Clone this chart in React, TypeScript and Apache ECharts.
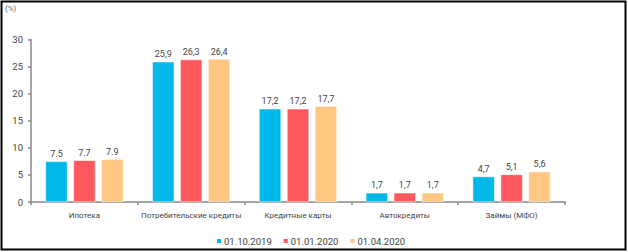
import React, { useEffect, useRef } from "react";
import * as echarts from "echarts";

const categories = ["Ипотека", "Потребительские кредиты", "Кредитные карты", "Автокредиты", "Займы (МФО)"];
const seriesNames = ["01.10.2019", "01.01.2020", "01.04.2020"];
const s2019_10 = [7.5, 25.9, 17.2, 1.7, 4.7];
const s2020_01 = [7.7, 26.3, 17.2, 1.7, 5.1];
const s2020_04 = [7.9, 26.4, 17.7, 1.7, 5.6];
const yTicks = { min: 0, max: 30, interval: 5 };
const colors = ["#00B8EA", "#FF585D", "#FFC882"];

export default function App() {
  const ref = useRef<HTMLDivElement>(null);
  useEffect(() => {
    const chart = echarts.init(ref.current!, null, { renderer: "svg" });
    const font = "Roboto, 'Noto Sans', sans-serif";
    const data = [s2019_10, s2020_01, s2020_04];
    chart.setOption({
      animation: false,
      textStyle: { fontFamily: font },
      grid: { left: 31, right: 63, top: 39.5, bottom: 50, containLabel: false },
      graphic: [
        {
          type: "rect",
          shape: { x: 1.5, y: 1.5, width: 624, height: 248 },
          style: { fill: "none", stroke: "#000", lineWidth: 2 },
        },
        {
          type: "text",
          left: 5,
          top: 4,
          style: { text: "(%)", fill: "#666", font: `8px ${font}` },
        },
      ],
      legend: {
        left: 210,
        top: 231,
        itemWidth: 6,
        itemHeight: 6,
        itemGap: 10,
        icon: "rect",
        textStyle: { fontSize: 9.5, color: "#444", padding: [0, 0, 0, -3], fontFamily: font },
        data: seriesNames,
      },
      xAxis: {
        type: "category",
        data: categories,
        axisLine: { lineStyle: { color: "#888", width: 1.5 } },
        axisTick: { show: true, length: 3, lineStyle: { color: "#888", width: 1.5 } },
        axisLabel: { fontSize: 8, color: "#444", margin: 9, interval: 0, fontFamily: font },
      },
      yAxis: {
        type: "value",
        min: yTicks.min,
        max: yTicks.max,
        interval: yTicks.interval,
        axisLine: { show: true, lineStyle: { color: "#888", width: 1.5 } },
        axisTick: { show: true, length: 3, lineStyle: { color: "#888", width: 1.5 } },
        axisLabel: { fontSize: 9.5, color: "#444", margin: 8, fontFamily: font },
        splitLine: { show: false },
      },
      series: seriesNames.map((name, i) => ({
        name,
        type: "bar",
        data: data[i],
        barWidth: 22,
        barGap: "27%",
        itemStyle: { color: colors[i], borderColor: "#fff", borderWidth: 0.5 },
        label: {
          show: true,
          position: "top",
          distance: 3,
          fontSize: 9,
          color: "#444",
          fontFamily: font,
          formatter: (p: any) => {
            const s = p.value.toFixed(1);
            return p.dataIndex === 0 ? s : s.replace(".", ",");
          },
        },
      })),
    });
    return () => chart.dispose();
  }, []);
  return (
    <div
      ref={ref}
      style={{ position: "fixed", left: 0, top: 0, width: 628, height: 252, background: "#fff" }}
    />
  );
}
